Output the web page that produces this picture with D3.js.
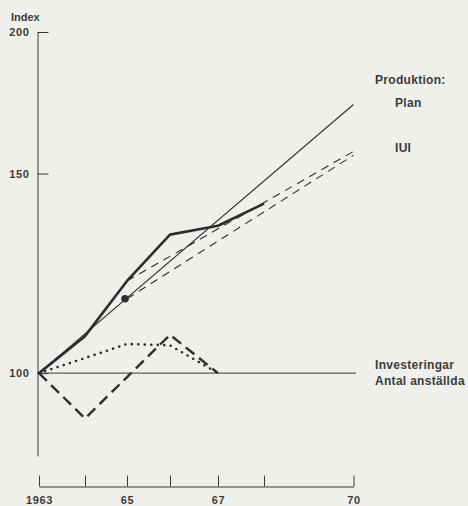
<!DOCTYPE html>
<html>
<head>
<meta charset="utf-8">
<script src="https://cdn.jsdelivr.net/npm/d3@7"></script>
<style>
  body { margin: 0; background: #efefec; }
  svg { display: block; }
  text { font-family: "Liberation Sans", Arial, sans-serif; font-weight: bold; fill: #3c3c3c; }
  .axis path, .axis line { stroke: #3a3a3a; stroke-width: 1; }
  .axis text { font-size: 11px; letter-spacing: 0.6px; }
</style>
</head>
<body>
<div id="chart"></div>
<script>
// data (index, 1963 = 100)
var tickYears = [1963, 1964, 1965, 1966, 1967, 1968, 1970];
var tickLabels = {1963: "1963", 1965: "65", 1967: "67", 1970: "70"};
var indexTicks = [100, 150, 200];

var actualYears = [1963, 1964, 1965, 1966, 1967, 1968];
var actualValues = [100, 107.8, 120.6, 132.5, 134.9, 141.1];

var planYears = [1963, 1970];
var planValues = [100, 172.6];
var planDot = [1965, 116.3];

var iuiHighYears = [1965, 1970];
var iuiHighValues = [120.6, 156.9];
var iuiLowYears = [1965, 1970];
var iuiLowValues = [116.3, 155.7];

var investYears = [1963, 1964, 1966, 1967];
var investValues = [100, 91.2, 108.1, 100];

var staffYears = [1963, 1964, 1965, 1966, 1967];
var staffValues = [100, 103.1, 106.1, 105.8, 100];

var width = 468, height = 506;

var svg = d3.select('#chart')
    .append('svg')
    .attr('width', width)
    .attr('height', height);

// scales - the index axis is logarithmic, the year axis is hand drawn (uneven spacing)
var scaleX = d3.scaleLinear()
    .domain(tickYears)
    .range([39, 85, 127, 170, 218, 264, 353.5]);
var scaleY = d3.scaleLog().domain([84.5, 200]).range([456, 32]);

function pairs(xs, ys) {
    return xs.map(function(x, i) { return [x, ys[i]]; });
}

var line = d3.line()
    .x(function(d) { return scaleX(d[0]); })
    .y(function(d) { return scaleY(d[1]); });

// y axis
var axisY = d3.axisLeft(scaleY)
    .tickValues(indexTicks)
    .tickFormat(d3.format('d'))
    .tickSizeInner(-11)
    .tickSizeOuter(0)
    .tickPadding(8);

svg.append('g')
    .attr('class', 'axis axis-y')
    .attr('transform', 'translate(37.5,0)')
    .call(axisY);

svg.append('text')
    .attr('x', 11)
    .attr('y', 21)
    .style('font-size', '11px')
    .text('Index');

// x axis, separate at the bottom, ticks pointing up
var axisX = d3.axisBottom(scaleX)
    .tickValues(tickYears)
    .tickFormat(function(d) { return tickLabels[d] || ''; })
    .tickSizeInner(-11)
    .tickSizeOuter(0)
    .tickPadding(10);

svg.append('g')
    .attr('class', 'axis axis-x')
    .attr('transform', 'translate(0,486.5)')
    .call(axisX);

// 100 reference line
svg.append('line')
    .attr('x1', scaleX(1963) - 1.5)
    .attr('x2', scaleX(1970) + 2.5)
    .attr('y1', scaleY(100))
    .attr('y2', scaleY(100))
    .attr('stroke', '#3a3a3a')
    .attr('stroke-width', 1);

var g = svg.append('g').attr('fill', 'none').attr('stroke', '#2e2e2e');

// plan
g.append('path')
    .datum(pairs(planYears, planValues))
    .attr('d', line)
    .attr('stroke-width', 1.1);

// IUI forecasts
g.append('path')
    .datum(pairs(iuiHighYears, iuiHighValues))
    .attr('d', line)
    .attr('stroke-width', 1.1)
    .attr('stroke-dasharray', '8,6');

g.append('path')
    .datum(pairs(iuiLowYears, iuiLowValues))
    .attr('d', line)
    .attr('stroke-width', 1.1)
    .attr('stroke-dasharray', '8,6');

// actual production
g.append('path')
    .datum(pairs(actualYears, actualValues))
    .attr('d', line)
    .attr('stroke-width', 2.6)
    .attr('stroke-linejoin', 'round');

// investments
g.append('path')
    .datum(pairs(investYears, investValues))
    .attr('d', line)
    .attr('stroke-width', 2.4)
    .attr('stroke-dasharray', '11,6');

// employees
g.append('path')
    .datum(pairs(staffYears, staffValues))
    .attr('d', line)
    .attr('stroke-width', 2.7)
    .attr('stroke-linecap', 'round')
    .attr('stroke-dasharray', '0,6.5');

svg.append('circle')
    .attr('cx', scaleX(planDot[0]) - 2)
    .attr('cy', scaleY(planDot[1]))
    .attr('r', 3.8)
    .attr('fill', '#2e2e2e');

// labels
var labels = [
    {t: 'Produktion:', x: 375, y: 84},
    {t: 'Plan', x: 395, y: 107},
    {t: 'IUI', x: 395, y: 152},
    {t: 'Investeringar', x: 375, y: 369},
    {t: 'Antal anställda', x: 375, y: 385}
];

svg.selectAll('.lbl')
    .data(labels)
    .enter()
    .append('text')
    .attr('class', 'lbl')
    .attr('x', function(d) { return d.x; })
    .attr('y', function(d) { return d.y; })
    .style('font-size', '12px')
    .style('letter-spacing', '0.3px')
    .text(function(d) { return d.t; });
</script>
</body>
</html>
